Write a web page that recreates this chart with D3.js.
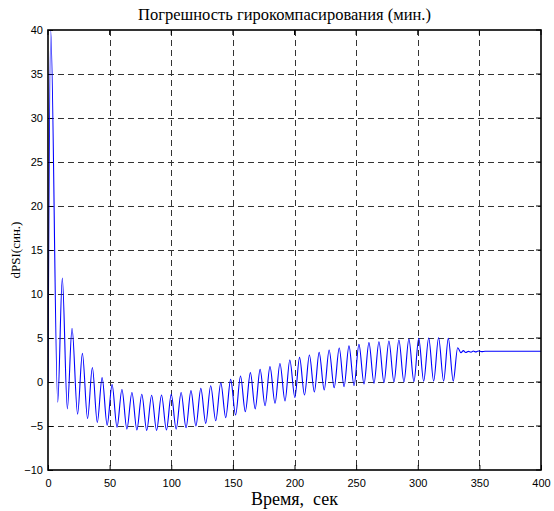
<!DOCTYPE html>
<html><head><meta charset="utf-8">
<script src="https://cdn.jsdelivr.net/npm/d3@7"></script>
<style>
body{margin:0;background:#fff;}
svg{display:block;}
</style></head>
<body>
<svg id="chart" width="554" height="511"></svg>
<script>
// ---- data ----
const xTicks = [0, 50, 100, 150, 200, 250, 300, 350, 400];
const yTicks = [-10, -5, 0, 5, 10, 15, 20, 25, 30, 35, 40];
const startT = [0];
const startV = [0];
const peakT = [2.2, 11.6, 19.5, 27.9, 36.0, 43.9, 52.0, 60.0, 68.1, 76.1, 84.1, 92.1, 100.0, 108.0, 116.0, 124.0, 132.0, 140.2, 148.2, 156.2, 164.2, 172.1, 180.1, 188.2, 196.2, 204.1, 212.1, 220.0, 228.1, 236.3, 244.2, 252.3, 260.4, 268.5, 276.6, 284.7, 292.8, 300.8, 308.9, 316.9, 324.8];
const peakV = [40, 11.8, 6.1, 3.25, 1.65, 0.5, -0.3, -0.85, -1.2, -1.4, -1.5, -1.48, -1.4, -1.2, -0.98, -0.72, -0.42, -0.08, 0.3, 0.68, 1.06, 1.44, 1.75, 2.1, 2.5, 2.8, 3.07, 3.37, 3.64, 3.86, 4.1, 4.28, 4.47, 4.58, 4.66, 4.77, 4.88, 4.96, 5.0, 5.03, 4.96];
const troughT = [7.9, 15.7, 24.0, 32.1, 40.0, 48.0, 56.0, 64.0, 72.1, 80.1, 88.1, 96.1, 104.0, 112.0, 120.0, 128.0, 136.1, 144.2, 152.2, 160.1, 168.1, 176.1, 184.2, 192.3, 200.3, 208.1, 216.1, 224.1, 232.2, 240.2, 248.3, 256.4, 264.5, 272.6, 280.7, 288.8, 296.9, 304.8, 312.9, 321.0, 328.8];
const troughV = [-2.3, -3.05, -3.65, -4.15, -4.6, -4.9, -5.15, -5.35, -5.45, -5.5, -5.5, -5.45, -5.35, -5.2, -5.0, -4.7, -4.4, -4.05, -3.75, -3.37, -3.05, -2.7, -2.42, -2.16, -1.75, -1.48, -1.12, -0.9, -0.65, -0.53, -0.42, -0.23, -0.15, -0.07, 0.0, 0.0, 0.04, 0.08, 0.1, 0.1, 0.1];
const settleT = [332.4, 335.1, 337.0, 338.9, 341.0, 343.2, 345.1, 347.0, 349.1, 351.9, 354.6, 357.2, 400];
const settleV = [3.9, 3.33, 3.56, 3.35, 3.48, 3.38, 3.52, 3.42, 3.52, 3.45, 3.5, 3.49, 3.49];

const titleText = "Погрешность гирокомпасирования (мин.)";
const xLabel = "Время,  сек";
const yLabel = "dPSI(син.)";

// ---- build series ----
const pts = [];
startT.forEach((t, i) => pts.push([t, startV[i]]));
peakT.forEach((t, i) => pts.push([t, peakV[i]]));
troughT.forEach((t, i) => pts.push([t, troughV[i]]));
settleT.forEach((t, i) => pts.push([t, settleV[i]]));
pts.sort((a, b) => a[0] - b[0]);

const svg = d3.select("#chart");
const m = {l: 48, r: 13, t: 30, b: 41};
const W = 554, H = 511;
const x = d3.scaleLinear().domain([0, 400]).range([m.l, W - m.r]);
const y = d3.scaleLinear().domain([-10, 40]).range([H - m.b, m.t]);

// grid
const grid = svg.append("g").attr("stroke", "#333").attr("stroke-width", 1)
  .attr("stroke-dasharray", "6,4").attr("shape-rendering", "crispEdges");
grid.selectAll(".gx").data(xTicks.slice(1, -1)).enter().append("line")
  .attr("x1", d => Math.round(x(d)) + 0.5).attr("x2", d => Math.round(x(d)) + 0.5)
  .attr("y1", y(40)).attr("y2", y(-10));
grid.selectAll(".gy").data(yTicks.slice(1, -1)).enter().append("line")
  .attr("y1", d => Math.round(y(d)) + 0.5).attr("y2", d => Math.round(y(d)) + 0.5)
  .attr("x1", x(0)).attr("x2", x(400));

// axes
const fontTick = "Liberation Sans, Arial, sans-serif";
const xAxis = svg.append("g").attr("transform", `translate(0,${y(-10)})`)
  .call(d3.axisBottom(x).tickValues(xTicks).tickSize(-5).tickPadding(9));
const yAxis = svg.append("g").attr("transform", `translate(${x(0)},0)`)
  .call(d3.axisLeft(y).tickValues(yTicks).tickSize(-5).tickPadding(5));
[xAxis, yAxis].forEach(a => {
  a.select(".domain").remove();
  a.selectAll("text").attr("font-family", fontTick).attr("font-size", 11).attr("fill", "#000");
  a.selectAll("line").attr("stroke", "#000");
});
// top/right ticks
svg.append("g").selectAll("line").data(xTicks).enter().append("line")
  .attr("x1", d => x(d)).attr("x2", d => x(d)).attr("y1", y(40)).attr("y2", y(40) + 5).attr("stroke", "#000");
svg.append("g").selectAll("line").data(yTicks).enter().append("line")
  .attr("y1", d => y(d)).attr("y2", d => y(d)).attr("x1", x(400)).attr("x2", x(400) - 5).attr("stroke", "#000");

// data line
const clipId = "plotclip";
svg.append("clipPath").attr("id", clipId).append("rect")
  .attr("x", x(0)).attr("y", y(40) - 1).attr("width", x(400) - x(0)).attr("height", y(-10) - y(40) + 2);
svg.append("path").datum(pts)
  .attr("clip-path", `url(#${clipId})`)
  .attr("fill", "none").attr("stroke", "#0000ff").attr("stroke-width", 1.1)
  .attr("d", d3.line().x(d => x(d[0])).y(d => y(d[1])).curve(d3.curveMonotoneX));

// box
svg.append("rect").attr("x", x(0)).attr("y", y(40)).attr("width", x(400) - x(0)).attr("height", y(-10) - y(40))
  .attr("fill", "none").attr("stroke", "#000").attr("stroke-width", 1.6);

// labels
const serif = "Liberation Serif, Times New Roman, serif";
svg.append("text").attr("x", (x(0) + x(400)) / 2 - 10).attr("y", 20).attr("text-anchor", "middle")
  .attr("font-family", serif).attr("font-size", 16.5).text(titleText);
svg.append("text").attr("x", (x(0) + x(400)) / 2).attr("y", 505).attr("text-anchor", "middle")
  .attr("font-family", serif).attr("font-size", 18)
  .attr("xml:space", "preserve").style("white-space", "pre").text(xLabel);
svg.append("text").attr("transform", `translate(20,${(y(40) + y(-10)) / 2}) rotate(-90)`).attr("text-anchor", "middle")
  .attr("font-family", serif).attr("font-size", 13).text(yLabel);
</script>
</body></html>
